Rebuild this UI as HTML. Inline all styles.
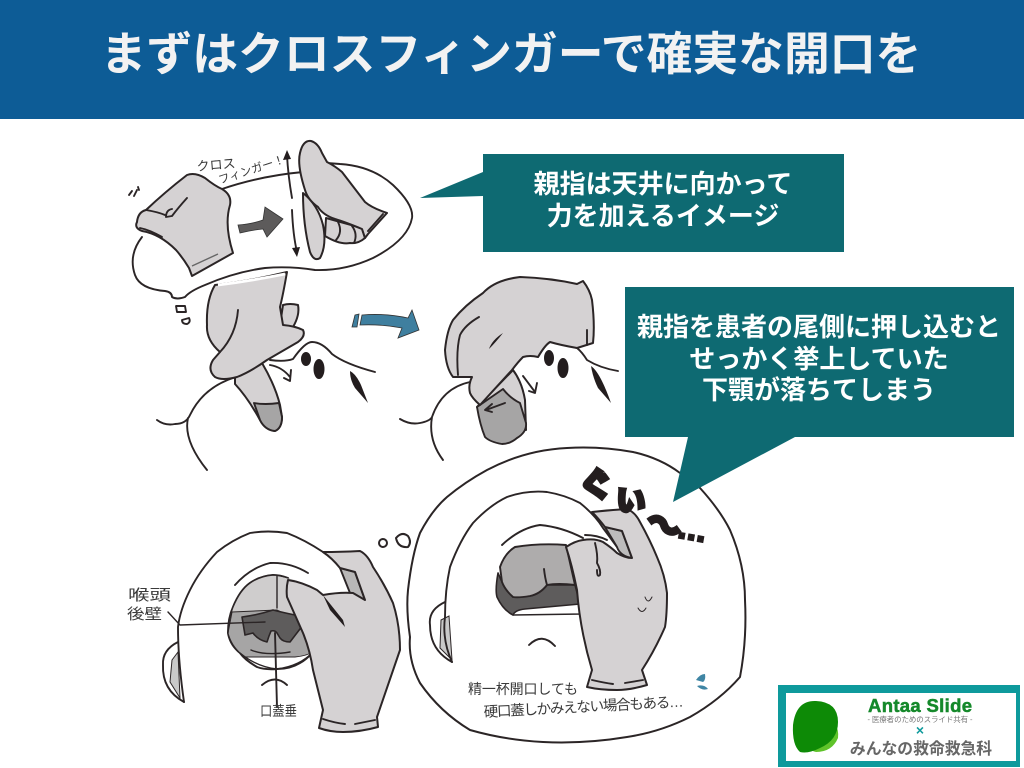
<!DOCTYPE html>
<html lang="ja"><head><meta charset="utf-8"><title>まずはクロスフィンガーで確実な開口を</title>
<style>
html,body{margin:0;padding:0;background:#fff}
svg{display:block}
text{font-family:"Liberation Sans","Noto Sans CJK JP",sans-serif}
.l{fill:none;stroke:#2b2526;stroke-width:1.9;stroke-linecap:round;stroke-linejoin:round}
.g{fill:#d5d2d3;stroke:#2b2526;stroke-width:2;stroke-linejoin:round}
.m{fill:#a6a5a5;stroke:#2b2526;stroke-width:1.9;stroke-linejoin:round}
.d{fill:#5e5c5c;stroke:#2b2526;stroke-width:1.6;stroke-linejoin:round}
.w{fill:#fff;stroke:#2b2526;stroke-width:2;stroke-linejoin:round}
.k{fill:#231d1e;stroke:none}
.h{fill:#3a3a3a;font-weight:400}
.c{fill:#fff;font-weight:700;font-size:26px;text-anchor:middle}
</style></head><body>
<svg width="1024" height="768" viewBox="0 0 1024 768" xmlns="http://www.w3.org/2000/svg">
<rect width="1024" height="768" fill="#fff"/>
<rect width="1024" height="119" fill="#0d5c96"/>
<text x="511" y="70" font-size="45.8" font-weight="700" fill="#f2f2f2" text-anchor="middle">まずはクロスフィンガーで確実な開口を</text>

<!-- thought bubble 1 -->
<path class="l" d="M222 189 Q260 176 303 172 M320 163 Q330 163 340 164 Q372 166 393 185 Q414 205 412 218 Q408 240 373 258 Q345 271 315 270 Q290 266 265 268 Q235 272 205 285 Q190 291 185 297 Q177 300 172 297 Q172 292 165 291 Q140 289 135 275 Q128 255 142 237"/>
<path class="g" d="M137 222 Q138 212 146 210 Q165 192 187 175 Q195 172 205 178 Q215 186 222 189 Q232 195 230 205 Q224 225 233 253 L192 276 L189 268 Q183 258 176 250 Q160 234 142 231 Q134 228 137 222Z"/>
<path class="l" d="M140 228 Q150 230 162 237 M187 198 Q178 208 172 216 L166 217 Q166 210 172 209 M146 210 Q158 212 165 215"/>
<path d="M192 266 L218 254" stroke="#666" stroke-width="1.4" fill="none"/>
<path class="l" d="M129 195 L132 191 M134 196 L137 190 M139 190 L138 187" />
<path d="M238 225 Q252 224 263 220 L265 207 L283 219 L267 237 L263 229 Q252 230 240 233Z" fill="#5d5b5b" stroke="#333" stroke-width=".8"/>

<!-- vertical arrows -->
<path class="l" d="M287 155 Q288 175 292 198 M292 210 Q293 235 297 252"/>
<path class="k" d="M287 150 L283 160 L291 159Z M297 257 L292 248 L300 247Z"/>

<!-- cross finger right -->
<path class="g" d="M303 193 Q318 205 323 225 Q327 245 320 258 Q314 262 310 252 Q303 225 303 193Z"/>
<path class="g" d="M326 218 L362 228 L365 238 Q358 244 350 243 Q340 245 325 236Z"/>
<path class="l" d="M338 222 Q343 232 336 240 M352 226 Q358 234 354 243"/>
<path class="g" d="M305 190 Q297 165 300 153 Q303 140 311 141 Q318 143 322 153 L327 162 Q335 166 342 172 L365 202 Q372 208 387 213 L368 234 L365 238 L362 229 Q345 222 335 219 Q323 215 318 207 Q308 200 305 190Z"/>
<path class="l" d="M383 214 L368 231"/>
<text class="h" font-size="13" transform="translate(197 171) rotate(-5)">クロス</text>
<text class="h" font-size="11.5" transform="translate(220 184) rotate(-18)">フィンガー！</text>

<!-- thought drops -->
<path class="l" d="M176 306 H185 L186 312 H177Z M182 320 L189 318 Q191 322 187 324 Q182 324 182 320Z"/>

<!-- patient 1 -->
<path class="l" d="M157 420 Q165 426 175 424 Q186 424 190 415 Q203 388 233 378 M188 418 Q183 440 207 470"/>
<path class="l" d="M270 360 Q285 362 293 359 Q305 342 312 342 Q322 342 332 354 Q345 364 375 372"/>
<ellipse class="k" cx="306" cy="359" rx="5" ry="7"/><ellipse class="k" cx="319" cy="369" rx="5.5" ry="10"/>
<path class="k" d="M350 371 Q356 374 361 385 L368 403 L355 388 Q350 380 350 371Z"/>
<path class="l" d="M270 365 Q282 367 290 377 M291 370 L290 381 L284 378"/>
<path class="g" d="M235 377 L262 363 Q275 385 280 405 L282 417 Q282 428 275 431 Q265 430 260 420 Q248 398 235 384Z"/>
<path class="m" d="M254 403 Q265 405 279 403 L282 417 Q282 428 275 431 Q265 430 260 420Z"/>
<path class="g" d="M283 305 Q290 303 298 305 Q300 315 293 327 L280 325Z"/>
<path class="g" d="M215 285 Q250 281 287 272 Q283 295 280 307 L283 325 Q295 326 303 330 Q306 336 298 342 L267 360 Q250 372 237 377 Q222 381 215 377 Q207 370 213 360 L220 352 Q206 340 207 325 Q206 300 215 285Z"/>
<path class="l" d="M238 310 Q236 335 220 352"/>
<path d="M218 285 Q250 281 285 274" stroke="#fff" stroke-width="2.8" fill="none"/>

<!-- blue arrow -->
<path d="M362 315 Q385 313 408 318 L412 310 L419 330 L398 338 L402 328 Q382 324 360 325Z" fill="#3f7f9f" stroke="#333" stroke-width=".8"/>
<path d="M355 315 L359 314 L357 327 L352 327Z" fill="#3f7f9f" stroke="#333" stroke-width=".8"/>

<!-- patient 2 -->
<path class="l" d="M400 419 Q410 425 420 423 Q430 421 432 417 Q442 388 470 382 M432 417 Q428 440 443 460"/>
<path class="l" d="M538 357 Q545 345 550 342 Q565 345 577 348 Q582 352 587 360 Q600 368 618 371"/>
<ellipse class="k" cx="549" cy="358" rx="5" ry="8"/><ellipse class="k" cx="563" cy="368" rx="5.5" ry="10"/>
<path class="k" d="M591 366 Q600 372 611 403 L598 388 Q593 378 591 366Z"/>
<path class="l" d="M523 376 L535 392 M537 383 L535 393 L529 391"/>
<path class="g" d="M513 370 Q522 382 525 400 L526 430 L477 407Z"/>
<path class="m" d="M503 389 Q510 398 520 403 L526 423 Q527 432 517 438 Q510 444 502 444 Q490 442 485 437 Q480 425 477 407Z"/>
<path class="l" d="M505 403 L486 410 M492 404 L485 410 L492 412"/>
<path class="g" d="M445 350 Q447 330 453 320 Q465 305 483 293 Q495 280 520 277 Q550 278 577 284 L583 281 Q590 290 592 300 Q595 325 593 343 L577 348 Q560 345 550 342 Q545 345 538 357 Q530 355 523 357 Q518 362 512 370 L480 405 Q472 398 470 393 Q468 385 472 377 L453 377 Q446 368 445 350Z"/>
<path class="l" d="M479 317 Q465 325 460 335 Q456 350 458 375 M587 330 L587 345"/>
<path class="k" d="M503 333 Q492 340 489 349 Q496 342 503 333Z" stroke="#231d1e" stroke-width="1"/>

<!-- callouts -->
<polygon points="483,154 844,154 844,252 483,252 483,196 420,198 483,172" fill="#0e6a72"/>
<text class="c" x="663" y="193">親指は天井に向かって</text>
<text class="c" x="663" y="225">力を加えるイメージ</text>

<!-- bubble 3 (big) -->
<path class="w" d="M408 590 Q412 555 420 533 Q432 510 447 497 Q465 482 487 470 Q525 450 567 448 Q600 446 633 452 Q660 458 680 473 Q692 478 700 488 Q720 510 730 530 Q745 565 745 600 Q747 640 740 677 Q720 700 690 717 Q660 732 627 737 Q585 744 543 742 Q505 740 470 730 Q440 712 420 683 Q408 660 410 637 Q406 610 408 590Z"/>
<polygon points="625,287 1014,287 1014,437 795,437 673,502 688,437 625,437" fill="#0e6a72"/>
<text class="c" x="819" y="336">親指を患者の尾側に押し込むと</text>
<text class="c" x="819" y="368">せっかく挙上していた</text>
<text class="c" x="819" y="399">下顎が落ちてしまう</text>

<!-- inside big bubble -->
<path class="l" d="M445 602 Q428 610 430 625 Q430 650 452 662"/>
<path d="M441 620 L449 616 L452 660 L440 648Z" fill="#c9c9c9" stroke="#2b2526" stroke-width="1"/>
<path class="l" d="M452 662 Q442 640 445 617 Q445 590 450 567 Q460 540 473 523 Q490 505 507 497 Q527 490 547 492 Q565 495 580 503 Q595 515 603 528 Q612 540 617 547"/>
<path class="w" d="M513 615 L582 614 L578 600 L515 608Z" style="stroke-width:1.4"/>
<path class="d" d="M498 573 Q495 590 497 597 Q503 610 513 615 Q515 610 525 609 L580 604 L575 585 L547 585 Q540 594 530 596 L513 597 L502 582Z"/>
<path class="m" style="fill:#aeacac" d="M500 567 Q505 553 515 547 Q540 543 566 545 L575 585 Q558 583 547 585 Q540 594 530 596 Q518 598 513 597 Q505 590 502 582Z"/>
<path class="l" d="M544 569 Q545 578 547 585"/>
<path class="l" d="M502 545 Q520 528 540 525 Q562 527 583 538 M585 535 Q597 535 607 540"/>
<path class="m" style="fill:#bdbcbc" d="M605 527 L622 531 L632 558 Q620 556 617 547Z"/>
<path class="g" d="M592 512 Q610 510 627 509 Q635 512 640 522 Q650 540 657 557 Q665 575 667 593 Q667 615 665 627 Q655 650 642 670 L647 685 Q630 690 617 690 Q600 690 587 687 L592 670 Q580 630 577 590 Q572 565 566 547 Q575 541 583 540 Q595 538 603 542 Q612 548 617 553 Q625 558 632 558 L622 531 L605 527 Q598 518 592 512Z"/>
<path class="l" d="M595 543 Q598 555 597 563 Q601 570 600 575 Q597 578 597 570"/>
<path class="l" d="M592 680 Q605 683 613 684 M625 683 L643 680"/>
<path class="l" d="M645 597 Q648 605 652 597 M638 608 Q642 615 646 608" style="stroke-width:1"/>
<path class="l" d="M529 645 Q542 632 555 646"/>
<text class="h" font-size="14" textLength="110" transform="translate(468 694)">精一杯開口しても</text>
<text class="h" font-size="14.5" transform="translate(484 717) rotate(-3)" textLength="200">硬口蓋しかみえない場合もある…</text>
<path d="M696 680 Q700 674 705 674 Q706 680 703 682Z M697 686 Q704 684 708 689 Q702 691 697 686Z" fill="#3f85a4"/>
<g fill="#231d1e" stroke="#231d1e" stroke-width="3" font-weight="900" font-size="34">
<text transform="translate(581 499) rotate(-8)">ぐ</text>
<text transform="translate(615 510) rotate(5)" font-size="30">い</text>
<text transform="translate(642 530) rotate(25)" font-size="36">〜</text>
<text transform="translate(676 537) rotate(10)" font-size="30" stroke-width="2.5">…</text>
</g>

<!-- bottom-left head -->
<path class="l" d="M178 642 Q162 650 163 665 Q162 690 184 702"/>
<path d="M172 660 L178 652 L180 698 L170 682Z" fill="#c9c9c9" stroke="#2b2526" stroke-width="1"/>
<path class="l" d="M184 702 Q178 660 178 627 Q180 610 190 590 Q200 570 217 552 Q232 540 250 533 Q268 530 287 533 Q305 540 323 552 Q335 560 343 570 Q352 585 357 595"/>
<path class="l" d="M235 585 Q250 568 270 563 Q290 562 308 573"/>
<path class="w" d="M228 633 Q228 618 233 607 Q240 590 250 583 Q260 576 273 575 Q280 575 288 578 L313 652 Q306 660 300 663 Q290 669 277 669 Q265 670 257 667 Q245 660 240 653 Q230 645 228 633Z"/>
<path d="M233 607 Q240 590 250 583 Q260 576 273 575 L295 580 L305 625 L277 610 L232 613Z" fill="#cfcdcd" stroke="none"/>
<path d="M232 612 L277 610 L303 623 L313 652 Q306 656 295 657 L245 657 Q232 648 228 633Z" fill="#a6a5a5" stroke="#2b2526" stroke-width="1"/>
<path class="d" d="M242 617 Q258 615 273 610 Q285 613 295 615 L303 625 L290 642 Q283 642 280 638 L277 633 Q275 630 271 631 L269 636 L267 642 Q258 640 253 633 L245 635Z"/>
<path class="l" d="M228 633 Q228 618 233 607 Q240 590 250 583 Q260 576 273 575 Q280 575 288 578 M240 653 Q257 667 277 669 Q300 666 313 652 M277 576 L277 608 M251 650 Q265 656 290 652" style="stroke-width:1.4"/>
<path class="l" d="M275 633 L277 707 M262 685 Q275 674 287 685"/>
<path class="l" d="M168 612 L180 625 L265 622" style="stroke-width:1.4"/>
<path class="m" style="fill:#b8b7b7" d="M340 568 L355 572 L365 600 L350 593Z"/>
<path class="g" d="M323 552 Q340 552 360 551 Q368 555 373 567 Q385 585 393 603 Q400 625 400 650 L377 717 L378 727 Q360 732 343 732 Q330 732 319 728 L323 710 L313 670 Q310 650 303 633 Q295 615 287 597 Q286 588 288 580 Q302 582 317 590 L323 595 Q340 592 353 593 L365 600 L355 572 L340 568 Q332 558 323 552Z"/>
<path class="k" d="M323 595 L343 620 L345 627 L330 610Z" stroke="#231d1e" stroke-width="1"/>
<path class="l" d="M323 719 Q335 723 345 724 M355 724 L375 720"/>
<circle class="w" cx="383" cy="543" r="4"/>
<path class="w" d="M396 538 Q402 531 408 536 Q412 542 408 547 Q398 548 396 538Z"/>
<text class="h" font-size="15" transform="translate(128 600) scale(1.43 1)">喉頭</text>
<text class="h" font-size="15" transform="translate(127 619) scale(1.17 1)">後壁</text>
<text class="h" font-size="14" transform="translate(260 716) scale(.88 1)">口蓋垂</text>

<!-- logo -->
<rect x="778" y="685" width="242" height="82" fill="#0e9a9c"/>
<rect x="786" y="693" width="230" height="68" fill="#fff"/>
<path d="M822 712 Q840 722 838 738 Q832 752 816 752 Q806 750 812 740Z" fill="#5fc32a"/>
<path d="M793 725 Q796 700 816 701 Q838 702 838 722 Q838 740 820 748 Q808 754 800 752 Q792 745 793 725Z" fill="#0d8a06"/>
<text x="868" y="712" font-size="18.5" font-weight="700" fill="#15892b" textLength="104" stroke="#15892b" stroke-width=".5">Antaa Slide</text>
<text x="920" y="722" font-size="7.5" fill="#777" text-anchor="middle" textLength="105">- 医療者のためのスライド共有 -</text>
<text x="920" y="735" font-size="14" font-weight="700" fill="#0e9a9c" text-anchor="middle">×</text>
<text x="921" y="754" font-size="15.8" font-weight="700" fill="#666" text-anchor="middle">みんなの救命救急科</text>
</svg>
</body></html>
